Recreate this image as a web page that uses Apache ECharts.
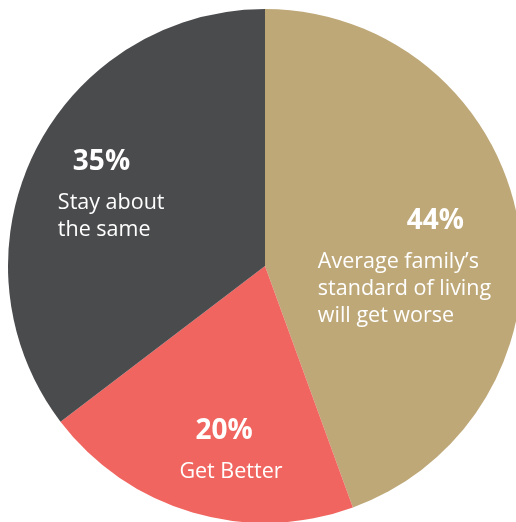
<!DOCTYPE html>
<html>
<head>
<meta charset="utf-8">
<script src="https://cdn.jsdelivr.net/npm/echarts@6/dist/echarts.min.js"></script>
<style>
  html, body { margin: 0; padding: 0; background: #fff; }
  #chart { width: 516px; height: 522px; }
</style>
</head>
<body>
<div id="chart"></div>
<script>
// slices, clockwise from 12 o'clock
let categories = ['Average family\u2019s\nstandard of living\nwill get worse', 'Get Better', 'Stay about\nthe same'];
let values = [44, 20, 35];
let colors = ['#BEA878', '#F0655F', '#4A4B4D'];

// label nudges from the default inside anchor, and left indent of the percent line
let labelShift = [[10, 18], [3, 52], [-36, -19]];
let pctIndent = [89, 16, 15];

let chart = echarts.init(document.getElementById('chart'));

let makeLabel = function(i){
    return {
        formatter: function(p){
            let lines = p.name.split('\n').map(s => '{t|' + s + '}');
            return '{p' + i + '|' + p.value + '%}\n' + lines.join('\n');
        },
        rich: {
            ['p' + i]: {
                fontFamily: 'Open Sans',
                fontWeight: 'bold',
                fontSize: 28,
                color: '#fff',
                lineHeight: 56,
                align: 'left',
                padding: [0, 0, 0, pctIndent[i]]
            },
            t: {
                fontFamily: 'Open Sans',
                fontSize: 21.5,
                color: '#fff',
                lineHeight: 27,
                align: 'left'
            }
        }
    };
};

let opts = {
    animation: false,
    series: [
        {
            type: 'pie',
            center: [265, 266],
            radius: 257,
            startAngle: 90,
            clockwise: true,
            avoidLabelOverlap: false,
            emphasis: { disabled: true },
            label: {
                show: true,
                position: 'inside'
            },
            labelLine: { show: false },
            labelLayout: function(params){
                let s = labelShift[params.dataIndex];
                return { dx: s[0], dy: s[1] };
            },
            data: categories.map((n, i) => {
                return {
                    name: n,
                    value: values[i],
                    itemStyle: { color: colors[i] },
                    label: makeLabel(i)
                };
            })
        }
    ]
};

chart.setOption(opts);
</script>
</body>
</html>
